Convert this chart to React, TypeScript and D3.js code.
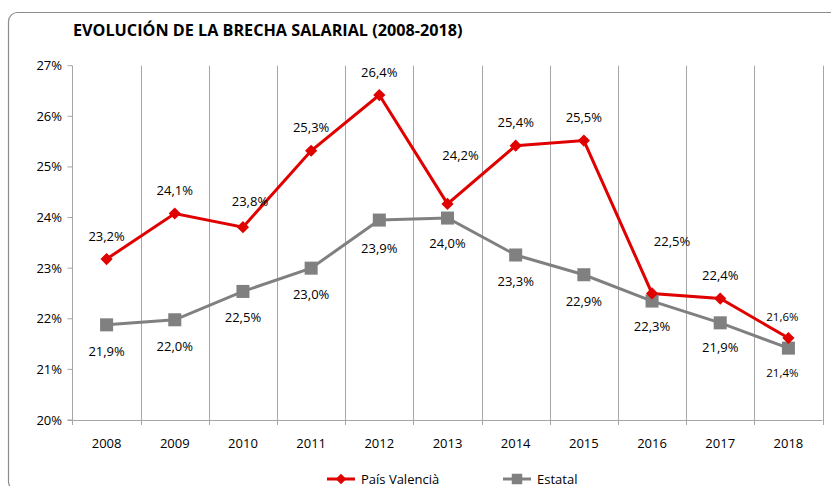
import React, { useRef, useEffect } from 'react';
import * as d3 from 'd3';

const years = ['2008', '2009', '2010', '2011', '2012', '2013', '2014', '2015', '2016', '2017', '2018'];
const valenciaValues = [23.18, 24.08, 23.81, 25.32, 26.42, 24.27, 25.42, 25.52, 22.5, 22.4, 21.62];
const estatalValues = [21.88, 21.98, 22.54, 23.0, 23.95, 23.99, 23.26, 22.87, 22.35, 21.92, 21.42];
const valenciaLabels = ['23,2%', '24,1%', '23,8%', '25,3%', '26,4%', '24,2%', '25,4%', '25,5%', '22,5%', '22,4%', '21,6%'];
const estatalLabels = ['21,9%', '22,0%', '22,5%', '23,0%', '23,9%', '24,0%', '23,3%', '22,9%', '22,3%', '21,9%', '21,4%'];
const yTicks = [20, 21, 22, 23, 24, 25, 26, 27];

const RED = '#e00000';
const GRAY = '#808080';
const FONT = '"Open Sans", "Liberation Sans", sans-serif';

// label offsets (dx, dy) relative to each point, as Excel placed them
const valenciaOffsets: [number, number][] = [
  [0, -23], [0, -23], [7, -26], [0, -23], [0, -23], [13, -48],
  [0, -23], [0, -23], [20, -52], [0, -23], [-6, -22],
];
const estatalOffsets: [number, number][] = [
  [0, 27], [0, 27], [0, 26], [0, 26], [0, 28], [0, 25],
  [0, 27], [0, 27], [0, 25], [0, 25], [-6, 24],
];

const App = () => {
  const svgRef = useRef<SVGSVGElement>(null);

  useEffect(() => {
    const width = 831;
    const height = 486;
    const left = 72.5;
    const right = 822.5;
    const top = 65.7;
    const bottom = 420;

    const root = d3.select(svgRef.current);
    root.selectAll('*').remove();
    const svg = root.attr('width', width).attr('height', height);

    svg.append('rect')
      .attr('x', 8.5).attr('y', 12.5)
      .attr('width', 840).attr('height', 478)
      .attr('rx', 9)
      .attr('fill', 'white')
      .attr('stroke', '#8c8c8c')
      .attr('stroke-width', 1.2);

    svg.append('text')
      .attr('x', 73).attr('y', 36)
      .attr('font-family', FONT)
      .attr('font-weight', 'bold')
      .attr('font-size', 16.2)
      .attr('fill', '#000')
      .text('EVOLUCIÓN DE LA BRECHA SALARIAL (2008-2018)');

    const xBand = d3.scaleBand().domain(years).range([left, right]);
    const xScale = (i: number) => (xBand(years[i]) as number) + xBand.bandwidth() / 2;
    const yScale = d3.scaleLinear().domain([20, 27]).range([bottom, top]);

    // vertical gridlines at category boundaries
    const bounds = years.map(y => xBand(y) as number).slice(1).concat([right]);
    svg.append('g').selectAll('line')
      .data(bounds)
      .enter()
      .append('line')
      .attr('x1', d => Math.round(d) + 0.5).attr('x2', d => Math.round(d) + 0.5)
      .attr('y1', top).attr('y2', bottom + 5)
      .attr('stroke', '#a6a6a6')
      .attr('stroke-width', 1);

    // y axis
    const yAxis = svg.append('g');
    yAxis.append('line')
      .attr('x1', left).attr('x2', left)
      .attr('y1', top).attr('y2', bottom)
      .attr('stroke', '#a6a6a6');
    yAxis.selectAll('.tick')
      .data(yTicks)
      .enter()
      .append('line')
      .attr('x1', left - 5).attr('x2', left)
      .attr('y1', d => yScale(d)).attr('y2', d => yScale(d))
      .attr('stroke', '#a6a6a6');
    yAxis.selectAll('text')
      .data(yTicks)
      .enter()
      .append('text')
      .attr('x', 62).attr('y', d => yScale(d) + 4.5)
      .attr('text-anchor', 'end')
      .attr('font-family', FONT)
      .attr('font-size', 13)
      .attr('fill', '#000')
      .text(d => `${d}%`);

    // x axis
    svg.append('line')
      .attr('x1', left - 5).attr('x2', right)
      .attr('y1', bottom + 0.5).attr('y2', bottom + 0.5)
      .attr('stroke', '#a6a6a6');
    svg.append('line')
      .attr('x1', left).attr('x2', left)
      .attr('y1', bottom).attr('y2', bottom + 5)
      .attr('stroke', '#a6a6a6');
    svg.append('g').selectAll('text')
      .data(years)
      .enter()
      .append('text')
      .attr('x', (d, i) => xScale(i))
      .attr('y', 448)
      .attr('text-anchor', 'middle')
      .attr('font-family', FONT)
      .attr('font-size', 13)
      .attr('fill', '#000')
      .text(d => d);

    const line = d3.line<number>()
      .x((d, i) => xScale(i))
      .y(d => yScale(d));

    const diamond = d3.symbol().type(d3.symbolDiamond2).size(95);
    const square = d3.symbol().type(d3.symbolSquare).size(170);

    svg.append('path')
      .datum(estatalValues)
      .attr('d', line)
      .attr('fill', 'none')
      .attr('stroke', GRAY)
      .attr('stroke-width', 3);
    svg.append('path')
      .datum(valenciaValues)
      .attr('d', line)
      .attr('fill', 'none')
      .attr('stroke', RED)
      .attr('stroke-width', 3);

    svg.append('g').selectAll('path')
      .data(estatalValues)
      .enter()
      .append('path')
      .attr('d', square)
      .attr('transform', (d, i) => `translate(${xScale(i)},${yScale(d)})`)
      .attr('fill', GRAY);
    svg.append('g').selectAll('path')
      .data(valenciaValues)
      .enter()
      .append('path')
      .attr('d', diamond)
      .attr('transform', (d, i) => `translate(${xScale(i)},${yScale(d)})`)
      .attr('fill', RED);

    const labels = (vals: number[], texts: string[], offs: [number, number][]) => {
      svg.append('g').selectAll('text')
        .data(vals)
        .enter()
        .append('text')
        .attr('x', (d, i) => xScale(i) + offs[i][0])
        .attr('y', (d, i) => yScale(d) + offs[i][1] + 4.5)
        .attr('text-anchor', 'middle')
        .attr('font-family', FONT)
        .attr('font-size', (d, i) => (i === vals.length - 1 ? 11.5 : 13))
        .attr('fill', '#000')
        .text((d, i) => texts[i]);
    };
    labels(valenciaValues, valenciaLabels, valenciaOffsets);
    labels(estatalValues, estatalLabels, estatalOffsets);

    // legend
    const legend = [
      { name: 'País Valencià', color: RED, kind: 'diamond', x: 327 },
      { name: 'Estatal', color: GRAY, kind: 'square', x: 503 },
    ];
    const lg = svg.append('g').selectAll('g')
      .data(legend)
      .enter()
      .append('g')
      .attr('transform', d => `translate(${d.x},479)`);
    lg.append('line')
      .attr('x1', 0).attr('x2', 28)
      .attr('stroke', d => d.color)
      .attr('stroke-width', 3);
    lg.append('path')
      .attr('d', d => (d.kind === 'square'
        ? d3.symbol().type(d3.symbolSquare).size(110)()
        : d3.symbol().type(d3.symbolDiamond2).size(70)()))
      .attr('transform', 'translate(14,0)')
      .attr('fill', d => d.color);
    lg.append('text')
      .attr('x', 34).attr('y', 4.5)
      .attr('font-family', FONT)
      .attr('font-size', 13)
      .attr('fill', '#000')
      .text(d => d.name);
  }, []);

  return (
    <div>
      <svg ref={svgRef} style={{ position: 'absolute', left: 0, top: 0 }}></svg>
    </div>
  );
};

export default App;
